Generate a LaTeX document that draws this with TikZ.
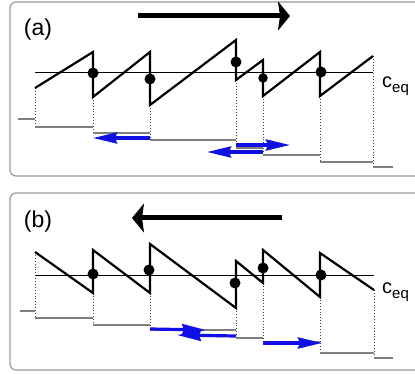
\documentclass[tikz,border=0pt]{standalone}
\usepackage{fontspec}
\setmainfont{Liberation Sans}
\usetikzlibrary{arrows.meta}
\definecolor{panelgray}{HTML}{9A9A9A}
\definecolor{stairgray}{HTML}{7F7F7F}
\definecolor{fluxblue}{HTML}{1010E6}

\begin{document}
\begin{tikzpicture}[
    x=1pt, y=-1pt,
    panel/.style={draw=panelgray, line width=1.2pt, rounded corners=6pt},
    tooth/.style={line width=2.2pt, line join=miter},
    ceqline/.style={line width=1pt},
    guide/.style={dotted, line width=0.9pt, black!75},
    stair/.style={stairgray, line width=1.1pt},
    dot/.style={circle, fill=black, inner sep=0pt, minimum size=11pt},
    drift/.style={-{Stealth[length=12pt, width=29pt, inset=2pt]}, line width=5pt},
    flux/.style={-{Stealth[length=24pt, width=11pt, inset=2pt]}, fluxblue, line width=3.2pt},
    tag/.style={font=\fontsize{23}{23}\selectfont},
    ceq/.style={anchor=base west, inner sep=0pt, font=\fontsize{20}{20}\selectfont},
]
\useasboundingbox (0,0) rectangle (415,374);

% ===== Panel (a): moving right =====
\draw[panel] (415,2) -- (10,2) -- (10,176) -- (415,176);
\node[tag] (taga) at (38,30) {(a)};
\coordinate (drifta0) at (138,16);
\coordinate (drifta1) at (290,16);
\draw[drift] (drifta0) -- (drifta1);

% equilibrium level
\coordinate (ceqa0) at (35,73);
\coordinate (ceqa1) at (373,73);
\draw[ceqline] (ceqa0) -- (ceqa1);
\node[ceq] (labela) at (382,88) {c\raisebox{-5pt}{\fontsize{15}{15}\selectfont eq}};

% dotted guides and staircase
\draw[guide] (35,88) -- (35,127);
\draw[guide] (93,97) -- (93,133);
\draw[guide] (150,105) -- (150,140);
\draw[guide] (236,80) -- (236,148);
\draw[guide] (263,96) -- (263,155);
\draw[guide] (320,96) -- (320,162);
\draw[guide] (373,56) -- (373,167);
\draw[stair] (18,119) -- (35,119);
\draw[stair] (35,127) -- (93,127);
\draw[stair] (93,133) -- (150,133);
\draw[stair] (150,140) -- (236,140);
\draw[stair] (236,148) -- (263,148);
\draw[stair] (263,155) -- (320,155);
\draw[stair] (320,162) -- (373,162);
\draw[stair] (373,167) -- (393,167);

% sawtooth
\draw[tooth] (35,88) -- (93,52) -- (93,97) -- (150,52) -- (150,105)
    -- (236,40) -- (236,80) -- (263,60) -- (263,96) -- (320,52)
    -- (320,96) -- (373,56);

\node[dot] (pa1) at (93,73) {};
\node[dot] (pa2) at (150,79) {};
\node[dot] (pa3) at (236,62) {};
\node[dot, minimum size=9.5pt] (pa4) at (263,78) {};
\node[dot] (pa5) at (321,72) {};

% blue fluxes
\coordinate (fa1s) at (150,138);
\coordinate (fa1e) at (93,138);
\coordinate (fa2s) at (236,145);
\coordinate (fa2e) at (290,145);
\coordinate (fa3s) at (263,152);
\coordinate (fa3e) at (207,152);
\draw[flux] (fa1s) -- (fa1e);
\draw[flux] (fa2s) -- (fa2e);
\draw[flux] (fa3s) -- (fa3e);

% ===== Panel (b): moving left =====
\draw[panel] (415,193) -- (10,193) -- (10,370) -- (415,370);
\node[tag] (tagb) at (38,222) {(b)};
\coordinate (driftb0) at (282,218);
\coordinate (driftb1) at (132,218);
\draw[drift] (driftb0) -- (driftb1);

% equilibrium level
\coordinate (ceqb0) at (35,275);
\coordinate (ceqb1) at (374,275);
\draw[ceqline] (ceqb0) -- (ceqb1);
\node[ceq] (labelb) at (382,293) {c\raisebox{-5pt}{\fontsize{15}{15}\selectfont eq}};

% dotted guides and staircase
\draw[guide] (35,252) -- (35,318);
\draw[guide] (93,293) -- (93,325);
\draw[guide] (150,293) -- (150,330);
\draw[guide] (236,308) -- (236,338);
\draw[guide] (263,283) -- (263,342);
\draw[guide] (320,297) -- (320,353);
\draw[guide] (374,290) -- (374,358);
\draw[stair] (20,311) -- (35,311);
\draw[stair] (35,318) -- (93,318);
\draw[stair] (93,325) -- (150,325);
\draw[stair] (150,330) -- (236,330);
\draw[stair] (236,338) -- (263,338);
\draw[stair] (263,342) -- (320,342);
\draw[stair] (320,353) -- (374,353);
\draw[stair] (374,358) -- (393,358);

% sawtooth
\draw[tooth] (35,252) -- (93,293) -- (93,250) -- (150,293) -- (150,244)
    -- (236,308) -- (236,261) -- (263,283) -- (263,250) -- (320,297)
    -- (320,253) -- (374,290);

\node[dot] (pb1) at (93,274) {};
\node[dot] (pb2) at (149,270) {};
\node[dot] (pb3) at (235,283) {};
\node[dot] (pb4) at (263,268) {};
\node[dot] (pb5) at (321,275) {};

% blue fluxes
\coordinate (fb1s) at (150,329);
\coordinate (fb1e) at (206,330);
\coordinate (fb2s) at (236,336);
\coordinate (fb2e) at (177,335);
\coordinate (fb3s) at (263,343);
\coordinate (fb3e) at (322,343);
\draw[flux] (fb1s) -- (fb1e);
\draw[flux] (fb2s) -- (fb2e);
\draw[flux] (fb3s) -- (fb3e);

\end{tikzpicture}
\end{document}
